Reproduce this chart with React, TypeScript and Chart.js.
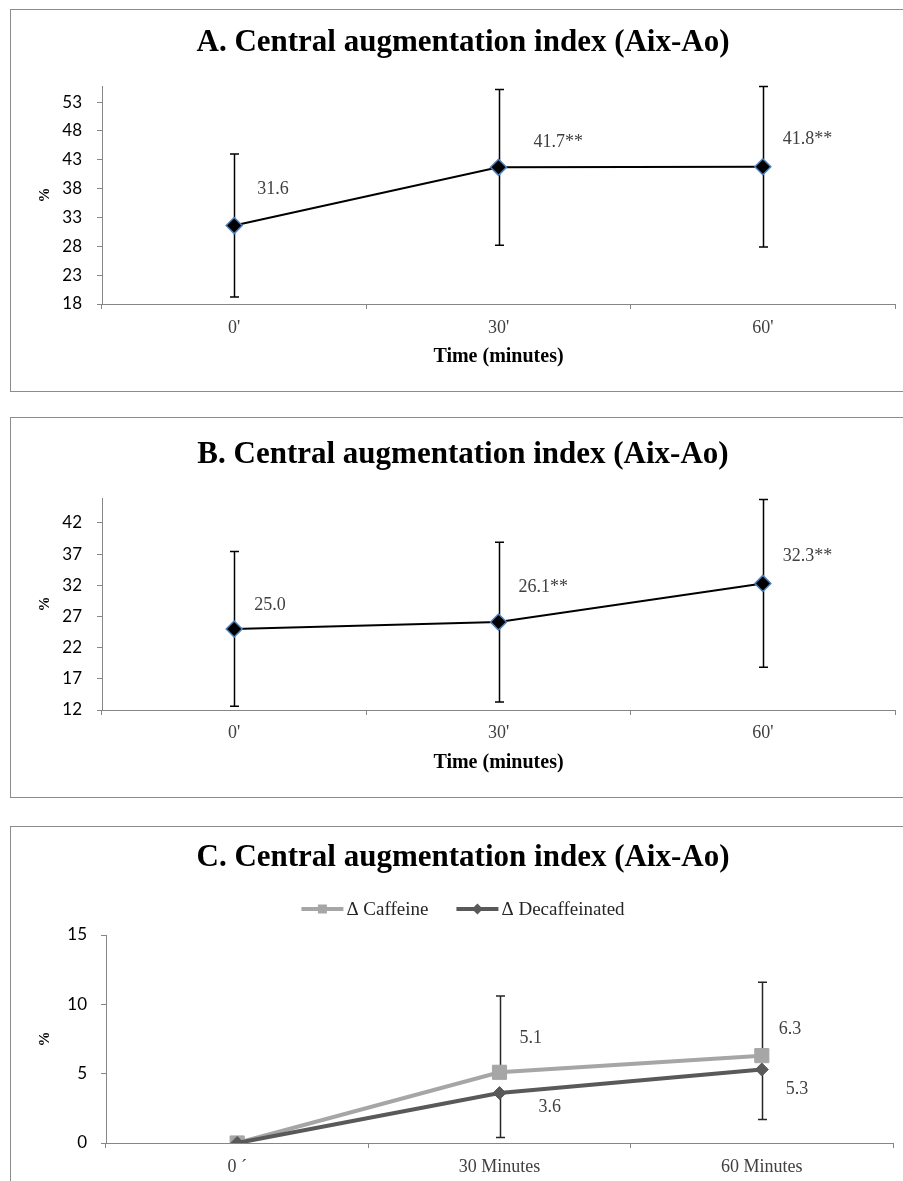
import React, { useEffect, useRef } from 'react';
import { Chart, registerables } from 'chart.js';

Chart.register(...registerables);

// ---------- DATA ----------
const timeLabelsAB = ["0'", "30'", "60'"];

const aixA = [31.6, 41.7, 41.8];
const errA = [12.4, 13.5, 13.9];
const pointTextA = ['31.6', '41.7**', '41.8**'];
const ticksA = [18, 23, 28, 33, 38, 43, 48, 53];

const aixB = [25.0, 26.1, 32.3];
const errB = [12.4, 12.8, 13.45];
const pointTextB = ['25.0', '26.1**', '32.3**'];
const ticksB = [12, 17, 22, 27, 32, 37, 42];

const timeLabelsC = ['0 ´', '30 Minutes', '60 Minutes'];
const caffeine = [0, 5.1, 6.3];
const decaf = [0, 3.6, 5.3];
const caffeinePlusErr = [0, 5.5, 5.3];
const decafMinusErr = [0, 3.2, 3.6];
const pointTextCaff = ['', '5.1', '6.3'];
const pointTextDecaf = ['', '3.6', '5.3'];
const ticksC = [0, 5, 10, 15];

// ---------- STYLE ----------
const SERIF = "'Liberation Serif', 'Times New Roman', serif";
const SANS = "Lato, 'Open Sans', sans-serif";
const AXIS_GRAY = '#868686';
const LABEL_COLOR = '#404040';
const TITLE_FONT = `bold 31px ${SERIF}`;

// ---------- PLUGINS ----------
const centerTitlePlugin = {
  id: 'centerTitle',
  afterDraw(chart: any, _args: any, opts: any) {
    if (!opts || !opts.text) return;
    const ctx = chart.ctx;
    ctx.save();
    ctx.font = opts.font;
    ctx.fillStyle = opts.color || '#000';
    ctx.textAlign = 'center';
    ctx.textBaseline = 'middle';
    ctx.fillText(opts.text, chart.width / 2, opts.y);
    ctx.restore();
  },
};

const errorBarPlugin = {
  id: 'errorBars',
  beforeDatasetsDraw(chart: any, _args: any, opts: any) {
    const bars = opts && opts.bars;
    if (!bars) return;
    const ctx = chart.ctx;
    const yScale = chart.scales.y;
    ctx.save();
    ctx.strokeStyle = opts.color || '#000';
    ctx.lineWidth = opts.width || 1.5;
    const cap = opts.cap || 4.5;
    bars.forEach((b: any) => {
      const meta = chart.getDatasetMeta(b.dataset);
      const data = chart.data.datasets[b.dataset].data;
      meta.data.forEach((pt: any, i: number) => {
        const v = data[i];
        const up = b.plus ? b.plus[i] : 0;
        const dn = b.minus ? b.minus[i] : 0;
        if (!up && !dn) return;
        const x = Math.round(pt.x) + 0.5;
        const y1 = yScale.getPixelForValue(v + up);
        const y2 = yScale.getPixelForValue(v - dn);
        ctx.beginPath();
        ctx.moveTo(x, y1);
        ctx.lineTo(x, y2);
        if (up) {
          ctx.moveTo(x - cap, y1);
          ctx.lineTo(x + cap, y1);
        }
        if (dn) {
          ctx.moveTo(x - cap, y2);
          ctx.lineTo(x + cap, y2);
        }
        ctx.stroke();
      });
    });
    ctx.restore();
  },
};

const pointLabelPlugin = {
  id: 'pointLabels',
  afterDatasetsDraw(chart: any, _args: any, opts: any) {
    const items = opts && opts.items;
    if (!items) return;
    const ctx = chart.ctx;
    ctx.save();
    ctx.font = opts.font;
    ctx.fillStyle = opts.color;
    ctx.textAlign = 'left';
    ctx.textBaseline = 'middle';
    items.forEach((it: any) => {
      const meta = chart.getDatasetMeta(it.dataset);
      meta.data.forEach((pt: any, i: number) => {
        const t = it.texts[i];
        if (!t) return;
        const off = it.offsets[i];
        ctx.fillText(t, pt.x + off[0], pt.y + off[1]);
      });
    });
    ctx.restore();
  },
};

const lineLegendPlugin = {
  id: 'lineLegend',
  afterDraw(chart: any, _args: any, opts: any) {
    const items = opts && opts.items;
    if (!items) return;
    const ctx = chart.ctx;
    ctx.save();
    ctx.font = opts.font;
    const widths = items.map(
      (it: any) => opts.symbolWidth + opts.textGap + ctx.measureText(it.text).width
    );
    const total =
      widths.reduce((a: number, b: number) => a + b, 0) + opts.itemGap * (items.length - 1);
    let x = chart.width / 2 - total / 2;
    const y = opts.y;
    items.forEach((it: any, i: number) => {
      ctx.strokeStyle = it.color;
      ctx.lineWidth = it.lineWidth;
      ctx.beginPath();
      ctx.moveTo(x, y);
      ctx.lineTo(x + opts.symbolWidth, y);
      ctx.stroke();
      const cx = x + opts.symbolWidth / 2;
      ctx.fillStyle = it.color;
      ctx.beginPath();
      if (it.marker === 'rect') {
        ctx.rect(cx - it.size, y - it.size, it.size * 2, it.size * 2);
      } else {
        ctx.moveTo(cx - it.size, y);
        ctx.lineTo(cx, y - it.size);
        ctx.lineTo(cx + it.size, y);
        ctx.lineTo(cx, y + it.size);
        ctx.closePath();
      }
      ctx.fill();
      ctx.fillStyle = opts.color;
      ctx.textAlign = 'left';
      ctx.textBaseline = 'middle';
      ctx.fillText(it.text, x + opts.symbolWidth + opts.textGap, y + 1);
      x += widths[i] + opts.itemGap;
    });
    ctx.restore();
  },
};

// ---------- CONFIG BUILDERS ----------
function axisX(labelPad: number, height: number, title?: string) {
  return {
    type: 'category',
    offset: true,
    grid: {
      offset: true,
      drawOnChartArea: false,
      drawTicks: true,
      tickLength: 5,
      color: AXIS_GRAY,
      lineWidth: 1,
    },
    border: { display: true, color: AXIS_GRAY, width: 1 },
    ticks: { font: { family: SERIF, size: 18 }, color: LABEL_COLOR, padding: labelPad, maxRotation: 0 },
    title: title
      ? {
          display: true,
          text: title,
          color: '#000',
          font: { family: SERIF, size: 20, weight: 'bold' },
          padding: { top: 0, bottom: 22.5 },
        }
      : { display: false },
    afterFit: (s: any) => {
      s.height = height;
    },
  };
}

function axisY(min: number, max: number, tickValues: number[], width: number, labelPad: number) {
  return {
    min,
    max,
    afterBuildTicks: (s: any) => {
      s.ticks = tickValues.map((v) => ({ value: v }));
    },
    grid: {
      drawOnChartArea: false,
      drawTicks: true,
      tickLength: 5,
      color: AXIS_GRAY,
      lineWidth: 1,
    },
    border: { display: true, color: AXIS_GRAY, width: 1 },
    ticks: { font: { family: SANS, size: 17 }, color: '#000', padding: labelPad },
    title: {
      display: true,
      text: '%',
      color: '#000',
      font: { family: SERIF, size: 15, weight: 'bold' },
      padding: { top: 25, bottom: 0 },
    },
    afterFit: (s: any) => {
      s.width = width;
    },
  };
}

function singleSeriesConfig(
  title: string,
  values: number[],
  errs: number[],
  texts: string[],
  offsets: number[][],
  yMin: number,
  yMax: number,
  ticks: number[],
  titleY: number,
  plotTop: number,
  xHeight: number,
  xLabelPad: number
): any {
  return {
    type: 'line',
    data: {
      labels: timeLabelsAB,
      datasets: [
        {
          data: values,
          borderColor: '#000',
          borderWidth: 2,
          tension: 0,
          pointStyle: 'rectRot',
          pointRadius: 8,
          pointBackgroundColor: '#000',
          pointBorderColor: '#4f81bd',
          pointBorderWidth: 1.5,
        },
      ],
    },
    plugins: [errorBarPlugin, pointLabelPlugin, centerTitlePlugin],
    options: {
      responsive: false,
      animation: false,
      events: [],
      layout: { padding: { left: 0, right: 20, top: plotTop, bottom: 0 } },
      plugins: {
        legend: { display: false },
        tooltip: { enabled: false },
        title: { display: false },
        centerTitle: { text: title, font: TITLE_FONT, color: '#000', y: titleY },
        errorBars: {
          color: '#000',
          width: 1.5,
          cap: 4.5,
          bars: [{ dataset: 0, plus: errs, minus: errs }],
        },
        pointLabels: {
          font: `18px ${SERIF}`,
          color: LABEL_COLOR,
          items: [{ dataset: 0, texts, offsets }],
        },
      },
      scales: {
        x: axisX(xLabelPad, xHeight, 'Time (minutes)'),
        y: axisY(yMin, yMax, ticks, 91, 15),
      },
    },
  };
}

const configA = () =>
  singleSeriesConfig(
    'A. Central augmentation index (Aix-Ao)',
    aixA,
    errA,
    pointTextA,
    [
      [23, -36.5],
      [35, -25],
      [20, -27],
    ],
    18,
    55.8,
    ticksA,
    33,
    76,
    87,
    8
  );

const configB = () =>
  singleSeriesConfig(
    'B. Central augmentation index (Aix-Ao)',
    aixB,
    errB,
    pointTextB,
    [
      [20, -24],
      [20, -35],
      [20, -27],
    ],
    12,
    46,
    ticksB,
    37,
    80,
    87,
    7
  );

const configC = (): any => ({
  type: 'line',
  data: {
    labels: timeLabelsC,
    datasets: [
      {
        label: 'Δ Caffeine',
        data: caffeine,
        order: 1,
        borderColor: '#a6a6a6',
        borderWidth: 4,
        tension: 0,
        pointStyle: 'rect',
        pointRadius: 10,
        pointBackgroundColor: '#a6a6a6',
        pointBorderColor: '#a6a6a6',
        pointBorderWidth: 1,
      },
      {
        label: 'Δ Decaffeinated',
        data: decaf,
        order: 0,
        borderColor: '#595959',
        borderWidth: 4,
        tension: 0,
        pointStyle: 'rectRot',
        pointRadius: 6.5,
        pointBackgroundColor: '#595959',
        pointBorderColor: '#595959',
        pointBorderWidth: 1,
      },
    ],
  },
  plugins: [errorBarPlugin, pointLabelPlugin, lineLegendPlugin, centerTitlePlugin],
  options: {
    responsive: false,
    animation: false,
    events: [],
    layout: { padding: { left: 0, right: 22, top: 108, bottom: 0 } },
    plugins: {
      legend: { display: false },
      tooltip: { enabled: false },
      title: { display: false },
      centerTitle: {
        text: 'C. Central augmentation index (Aix-Ao)',
        font: TITLE_FONT,
        color: '#000',
        y: 31,
      },
      errorBars: {
        color: '#262626',
        width: 1.5,
        cap: 4.5,
        bars: [
          { dataset: 0, plus: caffeinePlusErr, minus: null },
          { dataset: 1, plus: null, minus: decafMinusErr },
        ],
      },
      pointLabels: {
        font: `18px ${SERIF}`,
        color: LABEL_COLOR,
        items: [
          {
            dataset: 0,
            texts: pointTextCaff,
            offsets: [
              [20, -34],
              [20, -34.5],
              [17, -26],
            ],
          },
          {
            dataset: 1,
            texts: pointTextDecaf,
            offsets: [
              [39, 14],
              [39, 14],
              [24, 19.7],
            ],
          },
        ],
      },
      lineLegend: {
        font: `19px ${SERIF}`,
        color: '#262626',
        y: 82,
        symbolWidth: 42,
        textGap: 3,
        itemGap: 28,
        items: [
          { text: 'Δ Caffeine', color: '#a6a6a6', lineWidth: 4, marker: 'rect', size: 4.5 },
          { text: 'Δ Decaffeinated', color: '#595959', lineWidth: 4, marker: 'diamond', size: 5.5 },
        ],
      },
    },
    scales: {
      x: axisX(8.2, 38),
      y: axisY(0, 15, ticksC, 95, 14),
    },
  },
});

// ---------- COMPONENTS ----------
function ChartPanel(props: { left: number; top: number; width: number; height: number; makeConfig: () => any }) {
  const ref = useRef<HTMLCanvasElement>(null);
  useEffect(() => {
    if (!ref.current) return;
    const chart = new Chart(ref.current, props.makeConfig());
    return () => chart.destroy();
  }, []);
  return (
    <div
      style={{
        position: 'absolute',
        left: props.left,
        top: props.top,
        width: props.width,
        height: props.height,
        border: '1px solid #8c8c8c',
        background: '#fff',
      }}
    >
      <canvas
        ref={ref}
        width={props.width}
        height={props.height}
        style={{ display: 'block', width: props.width, height: props.height }}
      />
    </div>
  );
}

export default function App() {
  return (
    <div
      style={{
        position: 'fixed',
        left: 0,
        top: 0,
        width: 903,
        height: 1181,
        overflow: 'hidden',
        background: '#fff',
      }}
    >
      <ChartPanel left={10} top={9} width={904} height={381} makeConfig={configA} />
      <ChartPanel left={10} top={417} width={904} height={379} makeConfig={configB} />
      <ChartPanel left={10} top={826} width={904} height={354} makeConfig={configC} />
    </div>
  );
}
